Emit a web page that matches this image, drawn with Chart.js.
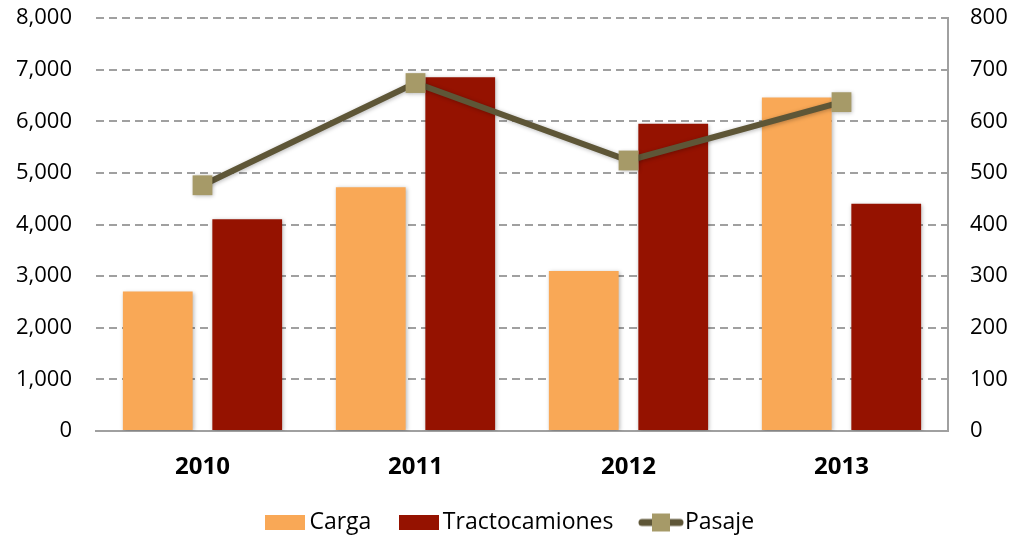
<!DOCTYPE html>
<html>
<head>
<meta charset="utf-8">
<script src="https://cdn.jsdelivr.net/npm/chart.js@4"></script>
<style>
  html, body { margin: 0; padding: 0; background: #fff; }
  #grafico { display: block; }
</style>
</head>
<body>
<canvas id="grafico" width="1027" height="537"></canvas>
<script>
// datos
const anios = ["2010", "2011", "2012", "2013"];
const carga = [2700, 4720, 3100, 6460];
const tractocamiones = [4100, 6850, 5950, 4400];
const pasaje = [476, 674, 524, 637];

const fuente = "'Open Sans', 'Liberation Sans', sans-serif";

//iconos de la leyenda
function iconoCaja(color) {
  const c = document.createElement("canvas");
  c.width = 40; c.height = 15;
  const g = c.getContext("2d");
  g.fillStyle = color;
  g.fillRect(0, 0, 40, 15);
  return c;
}
function iconoLinea() {
  const c = document.createElement("canvas");
  c.width = 46; c.height = 20;
  const g = c.getContext("2d");
  g.strokeStyle = "#5E5637";
  g.lineWidth = 7;
  g.lineCap = "round";
  g.beginPath(); g.moveTo(4, 10); g.lineTo(42, 10); g.stroke();
  g.fillStyle = "#A69A68";
  g.fillRect(14, 1, 18, 18);
  return c;
}
const iconos = [iconoCaja("#F9A856"), iconoCaja("#951200"), iconoLinea()];

//sombra suave para barras y marcadores
const sombra = {
  id: "sombra",
  beforeDatasetDraw(chart) {
    const ctx = chart.ctx;
    ctx.save();
    ctx.shadowColor = "rgba(0,0,0,0.28)";
    ctx.shadowBlur = 4;
    ctx.shadowOffsetX = 1;
    ctx.shadowOffsetY = 1;
  },
  afterDatasetDraw(chart) {
    chart.ctx.restore();
  }
};

//alto fijo para la leyenda (el padding de las etiquetas da la separacion horizontal)
const altoLeyenda = {
  id: "altoLeyenda",
  beforeLayout(chart) {
    const lg = chart.legend;
    if (lg && !lg._altoFijo) {
      const fitOrig = lg.fit;
      lg.fit = function () {
        fitOrig.call(this);
        this.height = 61;
      };
      lg._altoFijo = true;
    }
  }
};

//ancho fijo de los ejes y margen de arriba
const fijarEje = (ancho) => (s) => {
  s.width = ancho;
  s.paddingTop = 18;
  s.paddingBottom = 0;
};

const miles = (v) => v.toLocaleString("en-US");

new Chart(document.getElementById("grafico"), {
  data: {
    labels: anios,
    datasets: [
      {
        type: "line",
        label: "Pasaje",
        data: pasaje,
        yAxisID: "y2",
        borderColor: "#5E5637",
        borderWidth: 6,
        pointStyle: "rect",
        pointRadius: 14,
        pointHoverRadius: 14,
        pointBackgroundColor: "#A69A68",
        pointBorderColor: "#A69A68",
        pointBorderWidth: 0,
        order: 0
      },
      {
        type: "bar",
        label: "Carga",
        data: carga,
        yAxisID: "y",
        backgroundColor: "#F9A856",
        categoryPercentage: 0.84,
        barPercentage: 0.78,
        order: 1
      },
      {
        type: "bar",
        label: "Tractocamiones",
        data: tractocamiones,
        yAxisID: "y",
        backgroundColor: "#951200",
        categoryPercentage: 0.84,
        barPercentage: 0.78,
        order: 1
      }
    ]
  },
  options: {
    responsive: false,
    animation: false,
    layout: { autoPadding: false, padding: 0 },
    plugins: {
      tooltip: { enabled: false },
      legend: {
        position: "bottom",
        labels: {
          usePointStyle: true,
          pointStyleWidth: 25,
          boxHeight: 23,
          padding: 35,
          color: "#000",
          font: { family: fuente, size: 23 },
          generateLabels(chart) {
            const orden = ["Carga", "Tractocamiones", "Pasaje"];
            return orden.map((nombre, i) => {
              const idx = chart.data.datasets.findIndex((d) => d.label === nombre);
              return {
                text: nombre,
                datasetIndex: idx,
                pointStyle: iconos[i],
                fillStyle: "transparent",
                strokeStyle: "transparent",
                lineWidth: 0,
                fontColor: "#000",
                hidden: false
              };
            });
          }
        }
      }
    },
    scales: {
      x: {
        afterFit: (s) => { s.height = 45; },
        grid: { display: false, drawTicks: false },
        border: { display: true, color: "#A0A0A0", width: 2 },
        ticks: {
          color: "#000",
          padding: 22,
          font: { family: fuente, size: 24, weight: "bold" }
        }
      },
      y: {
        position: "left",
        min: 0,
        max: 8000,
        afterFit: fijarEje(96),
        grid: { color: "#A0A0A0", lineWidth: 2, drawTicks: false },
        border: { display: false, dash: [8, 5] },
        ticks: {
          stepSize: 1000,
          padding: 24,
          color: "#000",
          font: { family: fuente, size: 22 },
          callback: (v) => miles(v)
        }
      },
      y2: {
        position: "right",
        min: 0,
        max: 800,
        afterFit: fijarEje(79),
        grid: { drawOnChartArea: false, drawTicks: false },
        border: { display: true, color: "#A0A0A0", width: 2 },
        ticks: {
          stepSize: 100,
          padding: 22,
          color: "#000",
          font: { family: fuente, size: 22 }
        }
      }
    }
  },
  plugins: [sombra, altoLeyenda]
});
</script>
</body>
</html>
